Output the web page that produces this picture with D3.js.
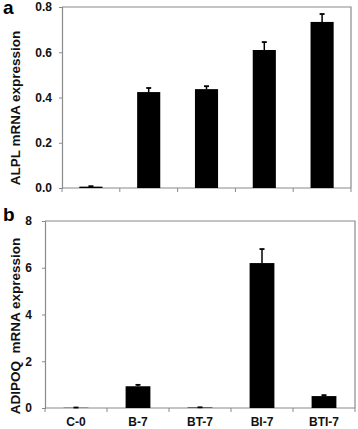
<!DOCTYPE html>
<html>
<head>
<meta charset="utf-8">
<script src="https://cdn.jsdelivr.net/npm/d3@7"></script>
<style>
  body { margin: 0; background: #fff; }
  svg { display: block; font-family: "Liberation Sans", Arial, sans-serif; }
</style>
</head>
<body>
<div id="chart"></div>
<script>
// Data
const categories = ["C-0", "B-7", "BT-7", "BI-7", "BTI-7"];
const alplValues = [0.006, 0.424, 0.437, 0.61, 0.734];
const alplErrors = [0.002, 0.018, 0.013, 0.035, 0.035];
const adipoqValues = [0.01, 0.93, 0.02, 6.2, 0.51];
const adipoqErrors = [0.01, 0.06, 0.01, 0.6, 0.04];
const alplTicks = [0, 0.2, 0.4, 0.6, 0.8];
const adipoqTicks = [0, 2, 4, 6, 8];

const W = 358, H = 429;
const svg = d3.select("#chart").append("svg")
  .attr("width", W).attr("height", H)
  .attr("viewBox", `0 0 ${W} ${H}`);

const frameColor = "#8a8a8a";

function drawPanel(opts) {
  const { left, right, top, bottom, values, errors, ticks, max, fmt, pad,
          title, titleY, letter, letterY, showXLabels } = opts;

  const x = d3.scaleBand().domain(categories).range([left, right]).paddingInner(0).paddingOuter(0);
  const y = d3.scaleLinear().domain([0, max]).range([bottom, top]);
  const g = svg.append("g");

  // frame (top + right)
  g.append("path")
    .attr("d", `M${left},${top}H${right}V${bottom}`)
    .attr("fill", "none").attr("stroke", frameColor).attr("stroke-width", 1.2);

  // y axis
  const yAxis = g.append("g")
    .attr("transform", `translate(${left},0)`)
    .call(d3.axisLeft(y).tickValues(ticks).tickFormat(fmt).tickSize(3).tickPadding(pad));
  yAxis.select(".domain").attr("stroke", frameColor).attr("stroke-width", 1.2);
  yAxis.selectAll(".tick line").attr("stroke", frameColor);
  yAxis.selectAll("text")
    .attr("fill", "#111").style("font-size", "12px").style("font-weight", "bold");

  // x axis with ticks at band boundaries
  const xAxis = g.append("g").attr("transform", `translate(0,${bottom})`);
  xAxis.append("line")
    .attr("x1", left).attr("x2", right)
    .attr("stroke", frameColor).attr("stroke-width", 1.2);
  const bounds = categories.map(c => x(c)).concat([right]);
  xAxis.selectAll(".bt").data(bounds).join("line")
    .attr("x1", d => d).attr("x2", d => d)
    .attr("y1", 0).attr("y2", 4)
    .attr("stroke", frameColor);
  if (showXLabels) {
    xAxis.selectAll(".lbl").data(categories).join("text")
      .attr("x", d => x(d) + x.bandwidth() / 2)
      .attr("y", 18)
      .attr("text-anchor", "middle")
      .attr("fill", "#111")
      .style("font-size", "12px").style("font-weight", "bold")
      .text(d => d);
  }

  // bars
  const bw = x.bandwidth() * 0.4;
  const data = categories.map((c, i) => ({ c, v: values[i], e: errors[i] }));
  g.selectAll(".bar").data(data).join("rect")
    .attr("x", d => x(d.c) + (x.bandwidth() - bw) / 2)
    .attr("y", d => y(d.v))
    .attr("width", bw)
    .attr("height", d => bottom - y(d.v))
    .attr("fill", "#000");

  // error bars (upper whisker + cap)
  g.selectAll(".err").data(data).join("line")
    .attr("x1", d => x(d.c) + x.bandwidth() / 2)
    .attr("x2", d => x(d.c) + x.bandwidth() / 2)
    .attr("y1", d => y(d.v))
    .attr("y2", d => y(d.v + d.e))
    .attr("stroke", "#000").attr("stroke-width", 1.5);
  g.selectAll(".cap").data(data).join("line")
    .attr("x1", d => x(d.c) + x.bandwidth() / 2 - 2.5)
    .attr("x2", d => x(d.c) + x.bandwidth() / 2 + 2.5)
    .attr("y1", d => y(d.v + d.e))
    .attr("y2", d => y(d.v + d.e))
    .attr("stroke", "#000").attr("stroke-width", 1.8);

  // y title
  g.append("text")
    .attr("transform", `translate(20,${titleY}) rotate(-90)`)
    .attr("text-anchor", "middle")
    .attr("fill", "#111")
    .style("font-size", "13.5px").style("font-weight", "bold")
    .attr("xml:space", "preserve")
    .text(title);

  // panel letter
  g.append("text")
    .attr("x", 3).attr("y", letterY)
    .attr("fill", "#000")
    .style("font-size", "19px").style("font-weight", "bold")
    .text(letter);
}

drawPanel({
  left: 62, right: 351, top: 7, bottom: 188,
  values: alplValues, errors: alplErrors, ticks: alplTicks, max: 0.8,
  fmt: d3.format(".1f"), pad: 7, title: "ALPL mRNA expression", titleY: 108,
  letter: "a", letterY: 14, showXLabels: false
});

drawPanel({
  left: 45, right: 355, top: 221, bottom: 408,
  values: adipoqValues, errors: adipoqErrors, ticks: adipoqTicks, max: 8,
  fmt: d3.format("d"), pad: 10, title: "ADIPOQ  mRNA expression", titleY: 326,
  letter: "b", letterY: 221, showXLabels: true
});
</script>
</body>
</html>
